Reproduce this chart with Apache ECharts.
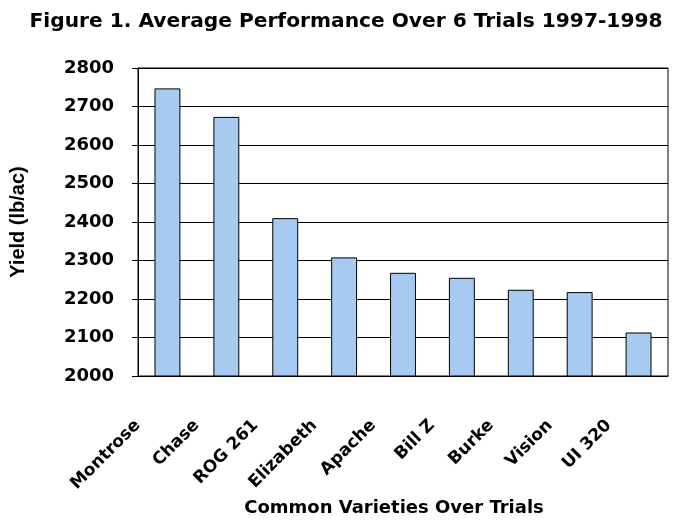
<!DOCTYPE html>
<html>
<head>
<meta charset="utf-8">
<script src="https://cdn.jsdelivr.net/npm/echarts@6/dist/echarts.min.js"></script>
<style>
  html, body { margin: 0; padding: 0; background: #fff; }
  #chart { width: 679px; height: 525px; }
</style>
</head>
<body>
<div id="chart"></div>
<script>
var varieties = ["Montrose", "Chase", "ROG 261", "Elizabeth", "Apache", "Bill Z", "Burke", "Vision", "UI 320"];
var yieldValues = [2747, 2673, 2410, 2308, 2268, 2255, 2224, 2218, 2113];
var yMin = 2000, yMax = 2800, yStep = 100;

var myChart = echarts.init(document.getElementById('chart'));

myChart.setOption({
    animation: false,
    title: {
        text: "Figure 1. Average Performance Over 6 Trials 1997-1998",
        left: 341,
        textAlign: "center",
        top: 7,
        textStyle: {
            fontFamily: "DejaVu Sans",
            fontSize: 20.2,
            fontWeight: "bold",
            color: "#000"
        }
    },
    grid: {
        left: 137,
        right: 11,
        top: 68,
        bottom: 149,
        show: true,
        borderColor: "#000",
        borderWidth: 1
    },
    xAxis: {
        type: "category",
        data: varieties,
        name: "Common Varieties Over Trials",
        nameLocation: "middle",
        nameGap: 121,
        nameTextStyle: {
            fontFamily: "DejaVu Sans",
            fontSize: 18,
            fontWeight: "bold",
            color: "#000",
            padding: [0, 18, 0, 0]
        },
        axisLine: { lineStyle: { color: "#000" } },
        axisTick: { length: 6, lineStyle: { color: "#000" } },
        axisLabel: {
            rotate: 45,
            margin: 17,
            padding: [0, 42, 0, 0],
            interval: 0,
            fontFamily: "DejaVu Sans",
            fontSize: 17,
            fontWeight: "bold",
            color: "#000"
        }
    },
    yAxis: {
        type: "value",
        min: yMin,
        max: yMax,
        interval: yStep,
        name: "Yield (lb/ac)",
        nameLocation: "middle",
        nameGap: 110,
        nameTextStyle: {
            fontFamily: "Liberation Sans",
            fontSize: 20,
            fontWeight: "bold",
            color: "#000"
        },
        axisLine: { show: true, lineStyle: { color: "#000" } },
        axisTick: { show: true, length: 6, lineStyle: { color: "#000" } },
        axisLabel: {
            margin: 24,
            formatter: function (v) { return String(v); },
            fontFamily: "DejaVu Sans",
            fontSize: 18,
            fontWeight: "bold",
            color: "#000"
        },
        splitLine: { lineStyle: { color: "#000", width: 1 } }
    },
    series: [{
        type: "bar",
        data: yieldValues,
        barCategoryGap: "56%",
        itemStyle: {
            color: "#A6CAF0",
            borderColor: "#000",
            borderWidth: 1
        }
    }]
});

window.onresize = function () {
    myChart.resize();
}
</script>
</body>
</html>
